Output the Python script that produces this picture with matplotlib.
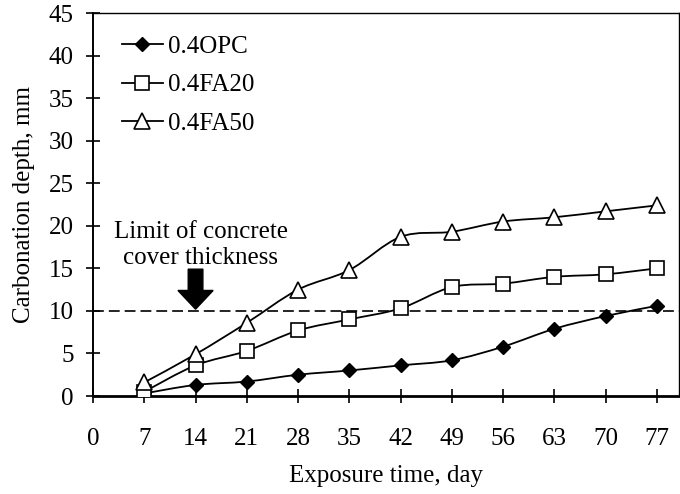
import matplotlib
matplotlib.use("Agg")
import matplotlib.pyplot as plt
import numpy as np
from matplotlib.path import Path
from matplotlib.patches import PathPatch, FancyArrow
from matplotlib.lines import Line2D

plt.rcParams['font.family'] = ['Liberation Serif', 'DejaVu Serif']

days = [7, 14, 21, 28, 35, 42, 49, 56, 63, 70, 77]
opc = [0.3, 1.3, 1.7, 2.5, 3.0, 3.6, 4.2, 5.8, 7.9, 9.4, 10.6]
fa20 = [0.5, 3.6, 5.3, 7.7, 9.0, 10.3, 12.8, 13.2, 14.0, 14.3, 15.0]
fa50 = [1.6, 4.9, 8.6, 12.5, 14.8, 18.7, 19.3, 20.5, 21.0, 21.7, 22.4]
labels = ["0.4OPC", "0.4FA20", "0.4FA50"]
xticks = list(range(0, 78, 7))
yticks = list(range(0, 46, 5))
limit_depth = 10


def smooth_path(x, y):
    x = np.asarray(x, float)
    y = np.asarray(y, float)
    pts = np.column_stack([x, y])
    verts = [pts[0]]
    codes = [Path.MOVETO]
    n = len(pts)
    for i in range(n - 1):
        p0 = pts[i - 1] if i > 0 else pts[i]
        p1 = pts[i]
        p2 = pts[i + 1]
        p3 = pts[i + 2] if i + 2 < n else pts[i + 1]
        c1 = p1 + (p2 - p0) / 6.0
        c2 = p2 - (p3 - p1) / 6.0
        verts += [c1, c2, p2]
        codes += [Path.CURVE4] * 3
    return Path(verts, codes)


FS = 18
fig = plt.figure(figsize=(6.8, 4.94), dpi=100)
ax = fig.add_axes([93 / 680, 1 - 396 / 494, (679 - 93) / 680, (396 - 13) / 494])

series = [opc, fa20, fa50]
styles = [dict(marker='D', ms=7.5, mfc='black', mec='black'),
          dict(marker='s', ms=10, mfc='white', mec='black', mew=1.2),
          dict(marker='^', ms=11, mfc='white', mec='black', mew=1.2)]

handles = []
for vals, st, lab in zip(series, styles, labels):
    ax.add_patch(PathPatch(smooth_path(days, vals), fill=False, lw=1.3,
                           edgecolor='black', zorder=2))
    ax.plot(days, vals, linestyle='none', zorder=3, **st)
    handles.append(Line2D([], [], color='black', lw=1.3, **st))

ax.axhline(limit_depth, color='black', lw=1.2, dashes=(6.5, 3), zorder=1)

ax.text(14.7, 17.7, "Limit of concrete\ncover thickness", ha='center',
        va='center', fontsize=FS, linespacing=1.25)
ax.add_patch(FancyArrow(14, 14.9, 0, -4.7, width=2.0, head_width=4.8,
                        head_length=2.2, length_includes_head=True,
                        color='black', zorder=4))

ax.set_xlim(0, 80)
ax.set_ylim(0, 45)
ax.set_xticks(xticks)
ax.set_yticks(yticks)
ax.tick_params(axis='both', direction='inout', length=10, width=1.2,
               labelsize=FS, color='black')
ax.tick_params(axis='x', pad=18)
ax.tick_params(axis='y', pad=9)

for s in ['top', 'right']:
    ax.spines[s].set_linewidth(1.0)
ax.spines['left'].set_linewidth(1.4)
ax.spines['bottom'].set_linewidth(2.0)

ax.set_xlabel("Exposure time, day", fontsize=FS, labelpad=11)
ax.set_ylabel("Carbonation depth, mm", fontsize=FS, labelpad=10)

ax.legend(handles, labels, loc='upper left', bbox_to_anchor=(0.049, 0.942),
          frameon=False, fontsize=FS, handlelength=1.65, handletextpad=0.2,
          labelspacing=0.65, borderpad=0, borderaxespad=0)

fig.savefig("out.png", dpi=100)
